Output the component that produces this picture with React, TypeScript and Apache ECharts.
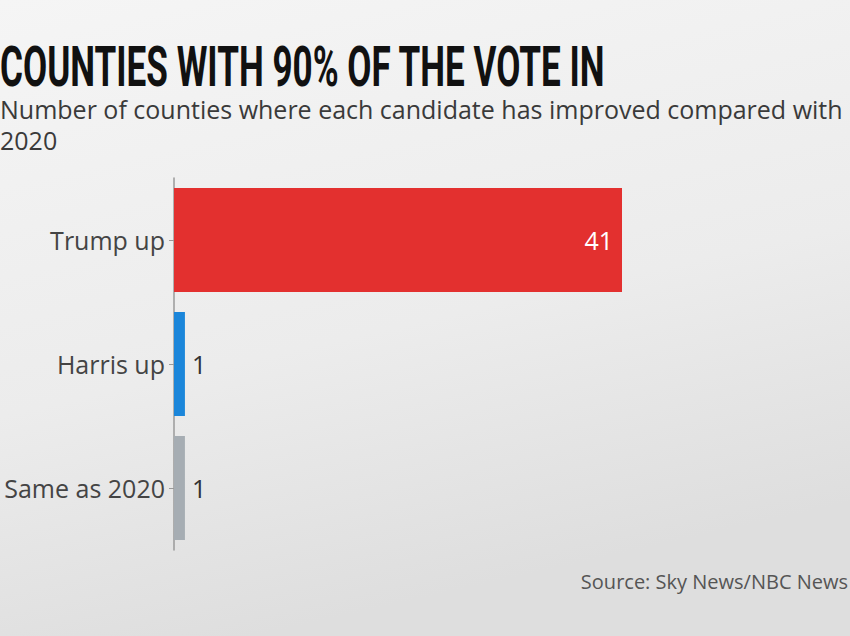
import React, { useEffect, useRef } from "react";
import * as echarts from "echarts";

const categories = ["Trump up", "Harris up", "Same as 2020"];
const values = [41, 1, 1];
const barColors = ["#e3302f", "#1b86da", "#a6adb3"];
const titleText = "COUNTIES WITH 90% OF THE VOTE IN";
const subtitleText = "Number of counties where each candidate has improved compared with\n2020";
const sourceText = "Source: Sky News/NBC News";

export default function App() {
  const ref = useRef<HTMLDivElement>(null);
  useEffect(() => {
    if (!ref.current) return;
    const chart = echarts.init(ref.current, null, { renderer: "svg" });
    const data = values.map((v, i) => ({
      value: v,
      itemStyle: { color: barColors[i] },
      label: i === 0
        ? { show: true, position: "insideRight", color: "#ffffff", distance: 9 }
        : { show: true, position: "right", color: "#333333", distance: 7 },
    }));
    chart.setOption({
      animation: false,
      backgroundColor: {
        type: "linear", x: 0, y: 0, x2: 0.3, y2: 1,
        colorStops: [
          { offset: 0, color: "#f5f5f5" },
          { offset: 0.6, color: "#ececec" },
          { offset: 1, color: "#dedede" },
        ],
      },
      grid: { left: 174, right: 228, top: 178, bottom: 86, containLabel: false },
      xAxis: {
        type: "value", min: 0, max: 41, show: false,
        splitLine: { show: false },
      },
      yAxis: {
        type: "category",
        inverse: true,
        data: categories,
        axisLine: { show: true, lineStyle: { color: "#9a9a9a", width: 1.5 } },
        axisTick: { show: true, alignWithLabel: true, length: 5, lineStyle: { color: "#9a9a9a" } },
        axisLabel: {
          color: "#444444", fontSize: 25, fontFamily: "Open Sans", margin: 9,
        },
      },
      series: [
        {
          type: "bar",
          data,
          barCategoryGap: "16%",
          label: { fontSize: 25, fontFamily: "Open Sans" },
        },
      ],
      graphic: [
        {
          type: "text", left: 0, top: 39, scaleX: 0.627,
          style: {
            text: titleText, fill: "#111111",
            font: "bold 56px Roboto",
          },
        },
        {
          type: "text", left: 0, top: 93,
          style: {
            text: subtitleText, fill: "#3a3a3a",
            font: "25px 'Open Sans'", lineHeight: 31,
          },
        },
        {
          type: "text", right: 2, top: 571,
          style: {
            text: sourceText, fill: "#555555",
            font: "20px 'Open Sans'",
          },
        },
      ],
    });
    return () => chart.dispose();
  }, []);
  return (
    <div
      ref={ref}
      style={{ position: "fixed", left: 0, top: 0, width: 850, height: 636 }}
    />
  );
}
